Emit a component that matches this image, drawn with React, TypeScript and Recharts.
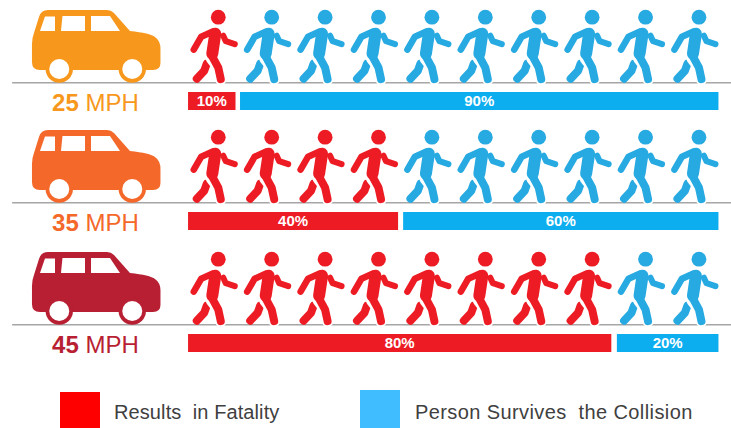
import React from 'react';
import {
  Bar,
  BarChart,
  LabelList,
  ReferenceLine,
  Scatter,
  ScatterChart,
  XAxis,
  YAxis,
} from 'recharts';

const speeds = ['25', '35', '45'];
const fatalCounts = [1, 4, 8];
const personSlots = [1, 2, 3, 4, 5, 6, 7, 8, 9, 10];
const carSlot = [-1.29];
const carColors = ['#F7981D', '#F4692A', '#B81F33'];

// bar lengths as drawn in the picture, the printed labels are kept apart
const fatalLengths = [8.95, 39.6, 79.8];
const gapLengths = [0.85, 0.95, 1.05];
const surviveLengths = [90.2, 59.45, 19.15];
const fatalLabels = ['10%', '40%', '80%'];
const surviveLabels = ['90%', '60%', '20%'];

const rowTops = [0, 120, 241.6];
const barTops = [92, 212, 334];

const RED = '#ED1C24';
const BLUE = '#27A9E1';
const FONT = '"Liberation Sans", Arial, sans-serif';

function Person({ cx, cy, payload }: any) {
  const color = payload.color;
  return (
    <g transform={`translate(${cx},${cy})`} fill='none' stroke={color} strokeLinecap='round' strokeLinejoin='round'>
      <circle cx={0} cy={-65.5} r={7.4} fill={color} stroke='none' />
      <path d='M-24.5 -33 L-17 -46 L-6 -51' strokeWidth={6.5} />
      <path d='M5 -47 L7.5 -41.5 L16.5 -38.5' strokeWidth={6} />
      <path d='M-11.5 -19 L-14 -12 L-21.5 -4' strokeWidth={8} />
      <path d='M-7 -24 L0 -15 L2.5 -3' stroke='#fff' strokeWidth={11} />
      <path d='M-6.5 -27 L0 -15 L2.5 -3.5' strokeWidth={8} />
      <path d='M-3 -49 L-6 -29' strokeWidth={12} />
    </g>
  );
}

function Car({ cx, cy, payload }: any) {
  const color = payload.color;
  return (
    <g transform={`translate(${cx - 96},${cy - 82.7})`}>
      <path
        d='M32 44 Q32 38 34 33 L39 17 Q41 10 48 10 L107 10 Q111 10 114 13 L130 31 Q150 33 155 37 Q161 41 160.5 50 L160.5 63 Q160.5 70 153 70 L40 70 Q32 70 32 62 Z'
        fill={color}
      />
      <circle cx={59.3} cy={69} r={13.7} fill={color} />
      <circle cx={132.3} cy={69} r={13.7} fill={color} />
      <circle cx={59.3} cy={69} r={10} fill='#fff' />
      <circle cx={132.3} cy={69} r={10} fill='#fff' />
      <path d='M40 31 L45 16.5 L55 16.5 L55 31 Z' fill='#fff' />
      <path d='M61 31 L62.5 16 L85 16 L85 31 Z' fill='#fff' />
      <path d='M91 31 L91 16 L110 16 L120 31 Z' fill='#fff' />
      <text x={95.5} y={110.5} textAnchor='middle' fontFamily={FONT} fontSize={24} fill={color}>
        <tspan fontWeight='bold'>{payload.speed}</tspan>
        <tspan> MPH</tspan>
      </text>
    </g>
  );
}

function Row({ index }: { index: number }) {
  const people = personSlots.map((slot, i) => ({
    slot,
    ground: 0,
    color: i < fatalCounts[index] ? RED : BLUE,
  }));
  const car = [
    { slot: carSlot[0], ground: 0, color: carColors[index], speed: speeds[index] },
  ];
  const bars = [
    {
      name: speeds[index],
      fatal: fatalLengths[index],
      gap: gapLengths[index],
      survive: surviveLengths[index],
      fatalLabel: fatalLabels[index],
      surviveLabel: surviveLabels[index],
    },
  ];
  return (
    <>
      <div style={{ position: 'absolute', left: 0, top: rowTops[index] }}>
        <ScatterChart width={731} height={120} margin={{ top: 0, right: 0, bottom: 37.3, left: 0 }}>
          <XAxis type='number' dataKey='slot' domain={[-3.087, 10.6]} hide />
          <YAxis type='number' dataKey='ground' domain={[0, 1]} hide />
          <ReferenceLine
            segment={[
              { x: -2.86, y: 0 },
              { x: 10.6, y: 0 },
            ]}
            stroke='#A6A6A6'
            strokeWidth={1.5}
          />
          <Scatter data={people} shape={<Person />} isAnimationActive={false} />
          <Scatter data={car} shape={<Car />} isAnimationActive={false} />
        </ScatterChart>
      </div>
      <div style={{ position: 'absolute', left: 188, top: barTops[index] }}>
        <BarChart
          layout='vertical'
          width={530.5}
          height={18.3}
          data={bars}
          barCategoryGap={0}
          margin={{ top: 0, right: 0, bottom: 0, left: 0 }}
        >
          <XAxis type='number' domain={[0, 100]} hide />
          <YAxis type='category' dataKey='name' hide />
          <Bar dataKey='fatal' stackId='a' fill={RED} isAnimationActive={false}>
            <LabelList dataKey='fatalLabel' position='center' fill='#fff' fontFamily={FONT} fontWeight='bold' fontSize={15} />
          </Bar>
          <Bar dataKey='gap' stackId='a' fill='transparent' isAnimationActive={false} />
          <Bar dataKey='survive' stackId='a' fill='#0DAEEF' isAnimationActive={false}>
            <LabelList dataKey='surviveLabel' position='center' fill='#fff' fontFamily={FONT} fontWeight='bold' fontSize={15} />
          </Bar>
        </BarChart>
      </div>
    </>
  );
}

function LegendItem({ x, textX, top, color, label, spacing }: any) {
  return (
    <>
      <div style={{ position: 'absolute', left: x, top, width: 40, height: 40, background: color }} />
      <div
        style={{
          position: 'absolute',
          left: textX,
          top: 399.5,
          fontFamily: FONT,
          fontSize: 20,
          letterSpacing: spacing,
          lineHeight: '24px',
          color: '#404040',
          whiteSpace: 'pre',
        }}
      >
        {label}
      </div>
    </>
  );
}

export default function App() {
  return (
    <div style={{ position: 'absolute', left: 0, top: 0, width: 731, height: 428, overflow: 'hidden', background: '#fff' }}>
      {speeds.map((_, i) => (
        <Row key={i} index={i} />
      ))}
      <LegendItem x={59.5} textX={114} top={392} color='#FF0000' label='Results  in Fatality' spacing={0.1} />
      <LegendItem x={359.5} textX={415} top={390} color='#3FBDFF' label='Person Survives  the Collision' spacing={0.4} />
    </div>
  );
}
